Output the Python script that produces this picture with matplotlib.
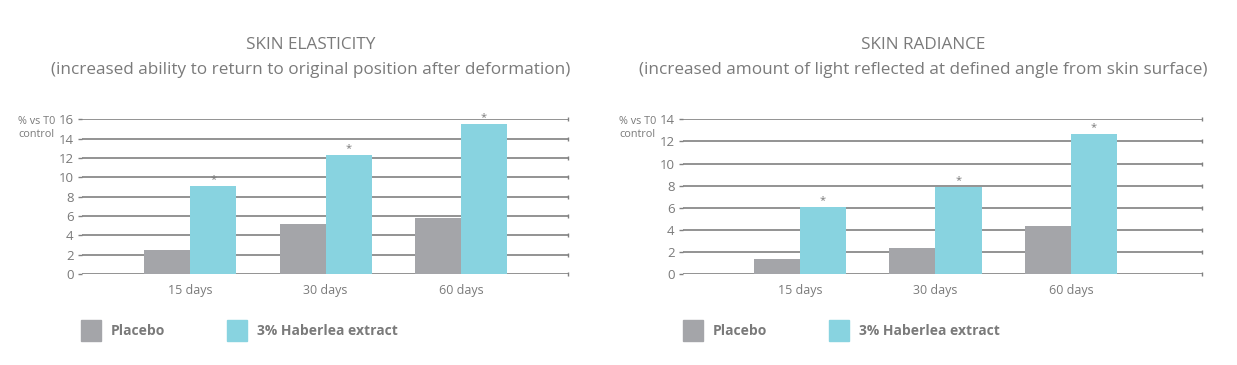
import matplotlib.pyplot as plt
import numpy as np

days = ['15 days', '30 days', '60 days']
series = ['Placebo', '3% Haberlea extract']

# skin elasticity, % vs T0 control
elasticity_placebo = [2.5, 5.2, 5.8]
elasticity_haberlea = [9.1, 12.3, 15.5]

# skin radiance, % vs T0 control
radiance_placebo = [1.35, 2.35, 4.35]
radiance_haberlea = [6.05, 7.85, 12.65]

GREY = '#a4a5a9'
BLUE = '#88d3e0'
TEXT = '#7a7a7a'
GRID = '#808080'

plt.rcParams['font.family'] = ['Open Sans', 'DejaVu Sans']


def panel(fig, rect, title, subtitle, placebo, haberlea, ymax, xlim, title_x, legend_x):
    ax = fig.add_axes(rect)
    x = np.arange(len(days))
    w = 0.34
    ax.bar(x - w / 2, placebo, w, color=GREY, zorder=3)
    ax.bar(x + w / 2, haberlea, w, color=BLUE, zorder=3)
    for xi, v in zip(x, haberlea):
        ax.text(xi + w / 2, v + ymax * 0.008, '*', ha='center', va='bottom',
                color=TEXT, fontsize=8)
    levels = range(0, ymax + 1, 2)
    for yv in levels:
        ax.axhline(yv, color=GRID, lw=1.2, zorder=1)
    # little end stubs on the right of each grid line
    ax.plot([xlim[1]] * len(levels), list(levels), ls='none', marker='|',
            ms=2.5, mew=1, color=GRID, clip_on=False)
    ax.set_ylim(0, ymax)
    ax.set_xlim(*xlim)
    ax.set_yticks(list(levels))
    ax.set_xticks(x)
    ax.set_xticklabels(days)
    ax.tick_params(axis='y', length=3, width=1, color=GRID, labelcolor=TEXT,
                   labelsize=9.5, pad=3)
    ax.tick_params(axis='x', length=0, labelcolor=TEXT, labelsize=9, pad=7)
    for s in ax.spines.values():
        s.set_visible(False)
    ax.patch.set_alpha(0)

    x0 = rect[0]
    fig.text(title_x, 1 - 45 / 365, title, ha='center', va='center', color=TEXT, fontsize=12.3)
    fig.text(title_x, 1 - 70 / 365, subtitle, ha='center', va='center', color=TEXT, fontsize=12.3)
    fig.text(x0 - 27 / 1237, 1 - 128 / 365, '% vs T0\ncontrol', ha='right', va='center',
             color=TEXT, fontsize=7.8, linespacing=1.3)

    # legend
    sq_w = 20 / 1237
    sq_h = 21 / 365
    for lx, col, lab in zip(legend_x, [GREY, BLUE], series):
        fig.patches.append(plt.Rectangle((lx, 1 - 341 / 365), sq_w, sq_h,
                                         transform=fig.transFigure, color=col))
        fig.text(lx + sq_w + 10 / 1237, 1 - 331 / 365, lab, ha='left', va='center',
                 color=TEXT, fontsize=10, fontweight='bold')
    return ax


fig = plt.figure(figsize=(12.37, 3.65), dpi=100)

panel(fig, [82 / 1237, 1 - 274 / 365, 486 / 1237, 154.7 / 365],
      'SKIN ELASTICITY',
      '(increased ability to return to original position after deformation)',
      elasticity_placebo, elasticity_haberlea, 16, (-0.8, 2.79),
      311 / 1237, [81 / 1237, 227 / 1237])

panel(fig, [683 / 1237, 1 - 274 / 365, 519 / 1237, 154.7 / 365],
      'SKIN RADIANCE',
      '(increased amount of light reflected at defined angle from skin surface)',
      radiance_placebo, radiance_haberlea, 14, (-0.863, 2.967),
      923 / 1237, [683 / 1237, 829 / 1237])

fig.savefig('out.png', dpi=100)
